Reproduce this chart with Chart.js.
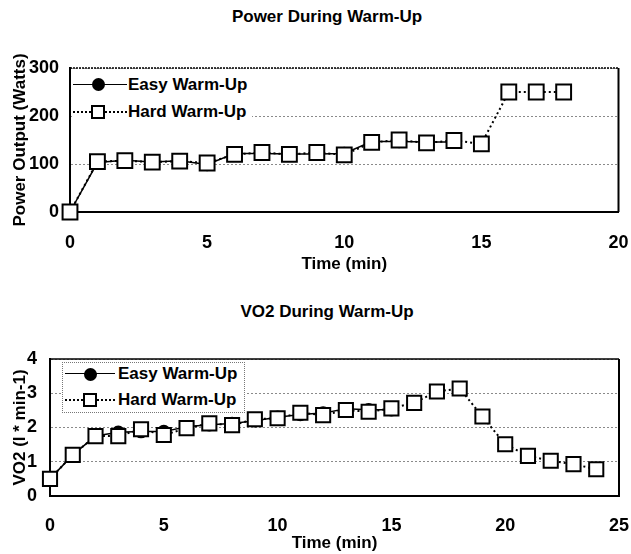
<!DOCTYPE html>
<html>
<head>
<meta charset="utf-8">
<script src="https://cdn.jsdelivr.net/npm/chart.js@4.4.1/dist/chart.umd.min.js"></script>
<style>
    body { margin: 0; background: #fff; font-family: "Liberation Sans", Arial, sans-serif; }
    #page { position: relative; width: 631px; height: 554px; overflow: hidden; }
    .box { position: absolute; left: 0; width: 631px; }
    .title { position: absolute; left: 0; width: 654px; text-align: center; font-weight: bold; font-size: 17px; color: #000; }
    .legend { position: absolute; background: #fff; font-weight: bold; font-size: 17px; color: #000; }
    .legend .row { position: relative; height: 27px; }
    .legend .txt { position: absolute; top: 50%; transform: translateY(-50%); white-space: nowrap; }
    .legend .line { position: absolute; top: 50%; height: 0; }
    .legend .solid { border-top: 1.5px solid #000; margin-top: -1px; }
    .legend .dotted { border-top: 2px dotted #000; margin-top: -1px; }
    .legend .dot { position: absolute; top: 50%; width: 13px; height: 13px; margin: -6.5px 0 0 -6.5px; border-radius: 50%; background: #000; }
    .legend .sq { position: absolute; top: 50%; width: 10px; height: 10px; margin: -7px 0 0 -7px; border: 2px solid #000; background: #fff; }
</style>
</head>
<body>
<div id="page">
    <div class="title" style="top: 7px;">Power During Warm-Up</div>
    <div class="box" style="top: 0; height: 290px;"><canvas id="power-chart"></canvas></div>
    <div class="title" style="top: 302px;">VO2 During Warm-Up</div>
    <div class="box" style="top: 290px; height: 264px;"><canvas id="vo2-chart"></canvas></div>

    <div class="legend" id="power-legend" style="left: 72px; top: 71px; width: 180px;">
        <div class="row">
            <div class="line solid" style="left: 1px; width: 54px;"></div>
            <div class="dot" style="left: 26px;"></div>
            <div class="txt" style="left: 56px;">Easy Warm-Up</div>
        </div>
        <div class="row">
            <div class="line dotted" style="left: 1px; width: 54px;"></div>
            <div class="sq" style="left: 26px;"></div>
            <div class="txt" style="left: 56px;">Hard Warm-Up</div>
        </div>
    </div>

    <div class="legend" id="vo2-legend" style="left: 62px; top: 362px; width: 181px; height: 49px; border: 1px dotted #777;">
        <div class="row" style="height: 22px;">
            <div class="line solid" style="left: 2px; width: 50px;"></div>
            <div class="dot" style="left: 27px;"></div>
            <div class="txt" style="left: 55px;">Easy Warm-Up</div>
        </div>
        <div class="row" style="height: 30px;">
            <div class="line dotted" style="left: 2px; width: 50px;"></div>
            <div class="sq" style="left: 27px;"></div>
            <div class="txt" style="left: 55px;">Hard Warm-Up</div>
        </div>
    </div>
</div>

<script>
    // Power during warm-up (Watts), one value per minute
    const powerMinutesHard = [0, 1, 2, 3, 4, 5, 6, 7, 8, 9, 10, 11, 12, 13, 14, 15, 16, 17, 18];
    const powerHard = [0, 105, 107, 104, 106, 102, 120, 124, 120, 124, 119, 145, 150, 144, 149, 142, 250, 250, 250];
    const powerMinutesEasy = [0, 1, 2, 3, 4, 5, 6, 7, 8, 9, 10, 11, 12, 13, 14];
    const powerEasy = [0, 103, 108, 104, 107, 99, 122, 122, 121, 121, 122, 147, 147, 146, 146];
    const powerTicksX = [0, 5, 10, 15, 20];
    const powerTicksY = [0, 100, 200, 300];

    // VO2 during warm-up (l * min-1)
    const vo2MinutesHard = [0, 1, 2, 3, 4, 5, 6, 7, 8, 9, 10, 11, 12, 13, 14, 15, 16, 17, 18, 19, 20, 21, 22, 23, 24];
    const vo2Hard = [0.5, 1.2, 1.75, 1.75, 1.95, 1.78, 1.98, 2.12, 2.07, 2.24, 2.27, 2.43, 2.36, 2.51, 2.46, 2.56, 2.72, 3.05, 3.14, 2.32, 1.51, 1.17, 1.03, 0.93, 0.78];
    const vo2MinutesEasy = [0, 1, 2, 3, 4, 5, 6, 7, 8, 9, 10, 11, 12, 13, 14, 15];
    const vo2Easy = [0.5, 1.2, 1.75, 1.86, 1.88, 1.88, 2.02, 2.08, 2.12, 2.2, 2.3, 2.38, 2.42, 2.55, 2.52, 2.52];
    const vo2TicksX = [0, 5, 10, 15, 20, 25];
    const vo2TicksY = [0, 1, 2, 3, 4];

    const FAMILY = '"Liberation Sans", Arial, sans-serif';
    const TICK_FONT = {family: FAMILY, size: 18, weight: 'bold'};
    const TITLE_FONT = {family: FAMILY, size: 17, weight: 'bold'};

    function toPoints(xs, ys) {
        return ys.map((y, i) => ({x: xs[i], y: y}));
    }

    // draws the top and right edges of the plot frame
    const frame = {
        id: 'frame',
        afterDraw(chart, args, opts) {
            const a = chart.chartArea;
            const ctx = chart.ctx;
            ctx.save();
            ctx.strokeStyle = '#000';
            ctx.lineWidth = 1.5;
            ctx.setLineDash(opts.topDash || []);
            ctx.beginPath();
            ctx.moveTo(a.left, a.top);
            ctx.lineTo(a.right, a.top);
            ctx.stroke();
            ctx.setLineDash([]);
            ctx.lineWidth = 2;
            ctx.beginPath();
            ctx.moveTo(a.right, a.top);
            ctx.lineTo(a.right, a.bottom);
            ctx.stroke();
            ctx.restore();
        }
    };

    function makeChart(id, opts) {
        const ctx = document.getElementById(id).getContext('2d');
        return new Chart(ctx, {
            type: 'line',
            data: {
                datasets: [{
                    label: 'Hard Warm-Up',
                    data: toPoints(opts.hardX, opts.hardY),
                    borderColor: '#000',
                    borderWidth: 2,
                    borderDash: [2, 3],
                    pointStyle: 'rect',
                    pointRadius: opts.squareRadius,
                    pointBorderWidth: 2,
                    pointBorderColor: '#000',
                    pointBackgroundColor: '#fff',
                    tension: 0,
                    clip: false,
                    order: 0
                }, {
                    label: 'Easy Warm-Up',
                    data: toPoints(opts.easyX, opts.easyY),
                    borderColor: '#000',
                    borderWidth: 1.5,
                    pointStyle: 'circle',
                    pointRadius: 6,
                    pointBackgroundColor: '#000',
                    pointBorderColor: '#000',
                    tension: 0,
                    clip: false,
                    order: 1
                }]
            },
            options: {
                responsive: true,
                maintainAspectRatio: false,
                animation: false,
                layout: {padding: opts.padding},
                plugins: {
                    legend: {display: false},
                    tooltip: {enabled: false},
                    frame: {topDash: opts.topDash}
                },
                scales: {
                    x: {
                        type: 'linear',
                        min: opts.ticksX[0],
                        max: opts.ticksX[opts.ticksX.length - 1],
                        afterBuildTicks: (s) => { s.ticks = opts.ticksX.map(v => ({value: v})); },
                        afterFit: (s) => { s.height = opts.xHeight; },
                        grid: {display: false, drawTicks: true, tickLength: opts.xTickGap, tickColor: 'rgba(0,0,0,0)'},
                        border: {display: true, color: '#000', width: 2},
                        ticks: {color: '#000', font: TICK_FONT, padding: 1, maxRotation: 0},
                        title: {display: true, text: 'Time (min)', color: '#000', font: TITLE_FONT, padding: 0}
                    },
                    y: {
                        min: opts.ticksY[0],
                        max: opts.ticksY[opts.ticksY.length - 1],
                        afterBuildTicks: (s) => { s.ticks = opts.ticksY.map(v => ({value: v})); },
                        afterFit: (s) => { s.width = opts.yWidth; },
                        grid: {
                            drawTicks: false,
                            color: (c) => c.tick && c.tick.value > opts.ticksY[0] ? '#8a8a8a' : 'rgba(0,0,0,0)',
                            lineWidth: 1
                        },
                        border: {display: true, color: '#000', width: 2, dash: [2, 2]},
                        ticks: {color: '#000', font: TICK_FONT, padding: opts.yTickPad},
                        title: {display: true, text: opts.yTitle, color: '#000', font: TITLE_FONT, padding: {top: opts.yTitlePad, bottom: 0}}
                    }
                }
            },
            plugins: [frame]
        });
    }

    makeChart('power-chart', {
        hardX: powerMinutesHard, hardY: powerHard,
        easyX: powerMinutesEasy, easyY: powerEasy,
        ticksX: powerTicksX, ticksY: powerTicksY,
        yTitle: 'Power Output (Watts)',
        squareRadius: 10.5,
        padding: {top: 68, right: 9, left: 0, bottom: 15},
        xHeight: 63, yWidth: 70,
        xTickGap: 19,
        yTickPad: 11, yTitlePad: 10,
        topDash: [2, 1]
    });

    makeChart('vo2-chart', {
        hardX: vo2MinutesHard, hardY: vo2Hard,
        easyX: vo2MinutesEasy, easyY: vo2Easy,
        ticksX: vo2TicksX, ticksY: vo2TicksY,
        yTitle: 'VO2 (l * min-1)',
        squareRadius: 10,
        padding: {top: 69, right: 9, left: 0, bottom: 0},
        xHeight: 58, yWidth: 50,
        xTickGap: 18,
        yTickPad: 13, yTitlePad: 10,
        topDash: []
    });
</script>
</body>
</html>
